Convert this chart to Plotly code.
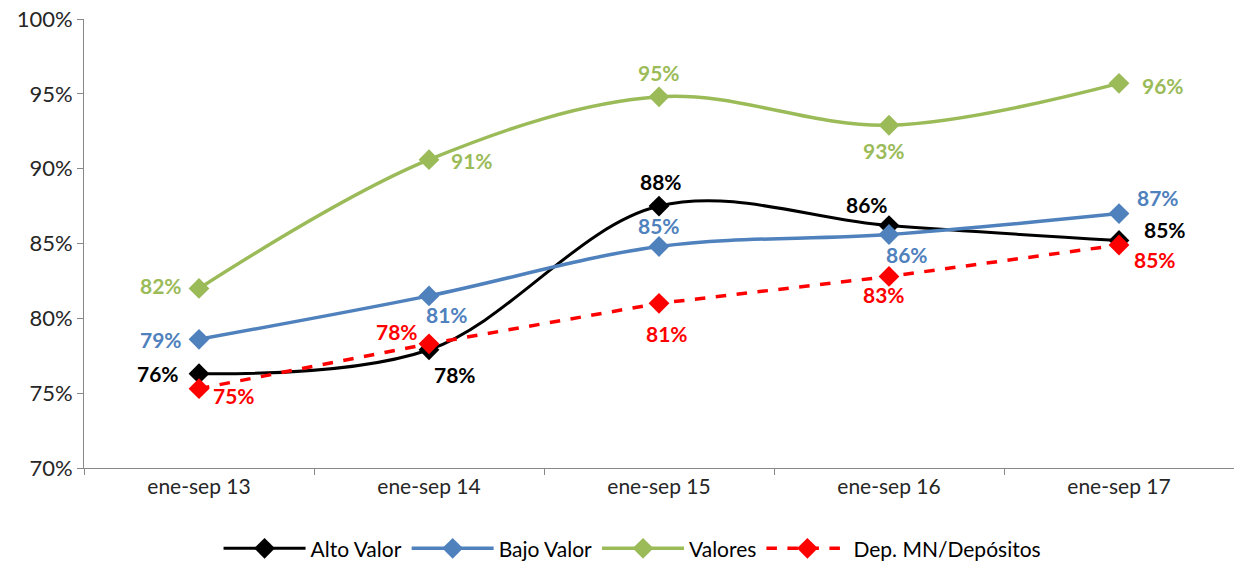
import plotly.graph_objects as go

periods = ['ene-sep 13', 'ene-sep 14', 'ene-sep 15', 'ene-sep 16', 'ene-sep 17']

alto_valor = [76.3, 77.9, 87.5, 86.2, 85.2]
bajo_valor = [78.6, 81.5, 84.8, 85.6, 87.0]
valores = [82.0, 90.6, 94.8, 92.9, 95.7]
dep_mn = [75.3, 78.3, 81.0, 82.8, 84.9]

alto_labels = ['76%', '78%', '88%', '86%', '85%']
bajo_labels = ['79%', '81%', '85%', '86%', '87%']
valores_labels = ['82%', '91%', '95%', '93%', '96%']
dep_labels = ['75%', '78%', '81%', '83%', '85%']

series = [
    ('Alto Valor', alto_valor, alto_labels, '#000000', 'solid', 'spline', 3,
     [(-41, 0), (26, -25), (2, 25), (-22, 21), (46, 11)]),
    ('Bajo Valor', bajo_valor, bajo_labels, '#4F81BD', 'solid', 'spline', 3.5,
     [(-38, 0), (18, -19), (0, 21), (18, -20), (39, 16)]),
    ('Valores', valores, valores_labels, '#9BBB59', 'solid', 'spline', 3.5,
     [(-38, 3), (43, -1), (0, 24), (-5, -25), (44, -2)]),
    ('Dep. MN/Depósitos', dep_mn, dep_labels, '#FF0000', 'dash', 'linear', 3.5,
     [(35, -7), (-32, 12), (8, -30), (-5, -18), (36, -14)]),
]

fig = go.Figure()
for name, vals, labels, color, dash, shape, width, offsets in series:
    fig.add_trace(go.Scatter(
        x=periods, y=vals, name=name, mode='lines+markers',
        line=dict(color=color, width=width, dash=dash, shape=shape, smoothing=1),
        marker=dict(symbol='diamond', size=16, color=color),
    ))
    for p, v, lab, (dx, dy) in zip(periods, vals, labels, offsets):
        fig.add_annotation(x=p, y=v, text='<b>' + lab + '</b>', showarrow=False,
                           xshift=dx, yshift=dy,
                           font=dict(family='Lato, Arial', size=21, color=color))

fig.update_layout(
    width=1234, height=561,
    margin=dict(l=84, r=0, t=19, b=93),
    plot_bgcolor='white', paper_bgcolor='white',
    font=dict(family='Lato, Arial', size=16, color='#262626'),
    legend=dict(orientation='h', x=0.477, xanchor='center',
                yref='container', y=0.022, yanchor='middle',
                font=dict(size=21, color='#000000'), itemwidth=82,
                traceorder='normal'),
    xaxis=dict(showline=True, linecolor='#888888', linewidth=1, ticks='outside',
               tickson='boundaries', ticklen=6, tickcolor='#888888',
               showgrid=False, tickfont=dict(size=21), range=[-0.5, 4.5],
               automargin=False),
    yaxis=dict(range=[70, 100], dtick=5, ticksuffix='%', showline=True,
               linecolor='#888888', linewidth=1, ticks='outside', ticklen=6,
               tickcolor='#888888', showgrid=False, zeroline=False,
               tickfont=dict(size=22), automargin=False),
)

fig.write_html('out.html', config={'displayModeBar': False},
               post_script="document.body.style.margin='0';")
